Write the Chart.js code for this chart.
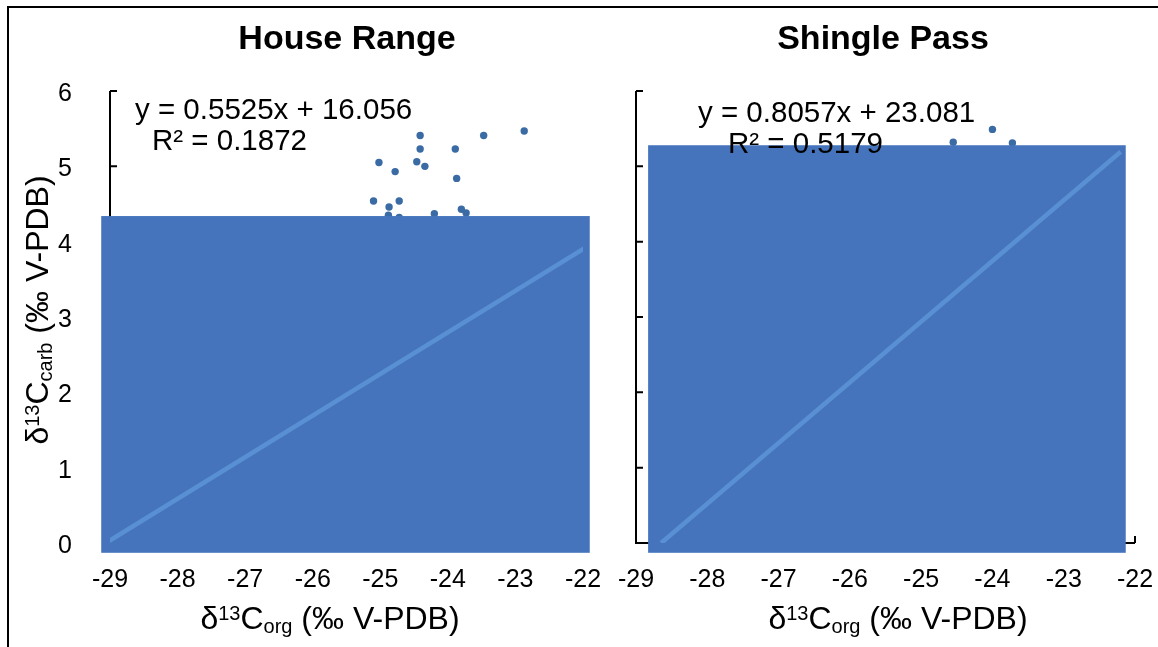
<!DOCTYPE html>
<html>
<head>
<meta charset="utf-8">
<title>δ13C carb vs org</title>
<script src="https://cdn.jsdelivr.net/npm/chart.js@4.4.1/dist/chart.umd.min.js"></script>
<style>
  html, body { margin: 0; padding: 0; background: #fff; }
  body { width: 1158px; height: 647px; position: relative; overflow: hidden; }
  .frame { position: absolute; left: 7px; top: 6px; width: 1200px; height: 700px; border-left: 2px solid #000; border-top: 2px solid #000; }
  canvas { position: absolute; top: 0; }
  #hr { left: 0; }
  #sp { left: 600px; }
</style>
</head>
<body>
<div class="frame"></div>
<canvas id="hr" width="620" height="647"></canvas>
<canvas id="sp" width="600" height="647"></canvas>
<script>
// ── δ13C carb vs org · two sections ──

const X_TICKS = [-29, -28, -27, -26, -25, -24, -23, -22];
const Y_TICKS = [0, 1, 2, 3, 4, 5, 6];

// House Range
const HR_X = [-24.41, -23.47, -22.87, -24.41, -23.89, -25.02, -24.46, -24.34, -24.78, -23.87, -25.10, -24.72, -24.87, -23.80, -23.73, -24.88, -24.72, -24.20];
const HR_Y = [5.41, 5.41, 5.47, 5.23, 5.23, 5.05, 5.06, 5.00, 4.93, 4.84, 4.54, 4.54, 4.46, 4.43, 4.38, 4.35, 4.32, 4.37];
const HR_FIT = ['0.5525', '16.056'];     // slope, intercept as printed
const HR_R2 = '0.1872';
const HR_FIT_END = -21.9;
const HR_BLOCK_X = [-29.13, -21.90];
const HR_BLOCK_Y = [-0.13, 4.34];

// Shingle Pass
const SP_X = [-24.55, -24.00, -23.72];
const SP_Y = [5.32, 5.49, 5.31];
const SP_FIT = ['0.8057', '23.081'];
const SP_R2 = '0.5179';
const SP_FIT_END = -22.2;
const SP_BLOCK_X = [-28.83, -22.13];
const SP_BLOCK_Y = [-0.13, 5.28];

const FONT = "'Liberation Sans', Arial, Helvetica, sans-serif";
const C_DOT = '#3b6ba5', C_BLOCK = '#4574bd', C_FIT = '#5890d3';

const pts = (xs, ys) => xs.map((x, i) => ({ x, y: ys[i] }));
const fitLine = (fit, xEnd) => {
  const m = parseFloat(fit[0]), b = parseFloat(fit[1]);
  return [{ x: -b / m, y: 0 }, { x: xEnd, y: m * xEnd + b }];
};

// text with sup/sub runs: parts = [[text, 'sup'|'sub'|null], ...]
function richText(ctx, parts, x, y, size, align) {
  const small = Math.round(size * 0.62);
  const widths = parts.map(([t, k]) => { ctx.font = `${k ? small : size}px ${FONT}`; return ctx.measureText(t).width; });
  const total = widths.reduce((a, b) => a + b, 0);
  let cx = align === 'center' ? x - total / 2 : x;
  ctx.textAlign = 'left'; ctx.textBaseline = 'alphabetic';
  parts.forEach(([t, k], i) => {
    ctx.font = `${k ? small : size}px ${FONT}`;
    const dy = k === 'sup' ? -size * 0.28 : k === 'sub' ? size * 0.12 : 0;
    ctx.fillText(t, cx, y + dy);
    cx += widths[i];
  });
}

const AXIS_TITLE_X = [['δ', null], ['13', 'sup'], ['C', null], ['org', 'sub'], [' (‰ V-PDB)', null]];
const AXIS_TITLE_Y = [['δ', null], ['13', 'sup'], ['C', null], ['carb', 'sub'], [' (‰ V-PDB)', null]];

const panelDeco = {
  id: 'panelDeco',
  beforeDatasetsDraw(chart) {
    // axis lines with inward tick marks
    const { ctx, chartArea: a, scales: { x, y } } = chart;
    ctx.save();
    ctx.strokeStyle = '#000'; ctx.lineWidth = 2;
    ctx.beginPath();
    ctx.moveTo(a.left, a.top); ctx.lineTo(a.left, a.bottom); ctx.lineTo(a.right, a.bottom);
    y.ticks.forEach(t => { const p = y.getPixelForValue(t.value); ctx.moveTo(a.left, p); ctx.lineTo(a.left + 7, p); });
    x.ticks.forEach(t => { const p = x.getPixelForValue(t.value); ctx.moveTo(p, a.bottom); ctx.lineTo(p, a.bottom - 7); });
    ctx.stroke();
    ctx.restore();
  },
  afterDatasetDraw(chart, args, o) {
    // shaded block sits over the dots, under the fit line
    if (args.index !== 1) return;
    const { ctx, scales: { x, y } } = chart;
    const x0 = x.getPixelForValue(o.blockX[0]), x1 = x.getPixelForValue(o.blockX[1]);
    const y0 = y.getPixelForValue(o.blockY[0]), y1 = y.getPixelForValue(o.blockY[1]);
    ctx.save(); ctx.fillStyle = C_BLOCK; ctx.fillRect(x0, y1, x1 - x0, y0 - y1); ctx.restore();
  },
  afterDatasetsDraw(chart, args, o) {
    const { ctx } = chart;
    ctx.save(); ctx.fillStyle = '#000';
    ctx.font = `29.5px ${FONT}`; ctx.textAlign = 'left'; ctx.textBaseline = 'middle';
    ctx.fillText(`y = ${o.fit[0]}x + ${o.fit[1]}`, o.eq[0], o.eq[1]);
    ctx.fillText(`R² = ${o.r2}`, o.r2At[0], o.r2At[1]);
    ctx.restore();
  },
  afterDraw(chart, args, o) {
    const { ctx } = chart;
    ctx.save(); ctx.fillStyle = '#000';
    ctx.font = `bold 34px ${FONT}`; ctx.textAlign = 'center'; ctx.textBaseline = 'middle';
    ctx.fillText(o.title, o.titleAt[0], o.titleAt[1]);
    richText(ctx, AXIS_TITLE_X, o.xTitleAt[0], o.xTitleAt[1], 32, 'center');
    if (o.yTitleAt) {
      ctx.translate(o.yTitleAt[0], o.yTitleAt[1]); ctx.rotate(-Math.PI / 2);
      richText(ctx, AXIS_TITLE_Y, 0, 0, 32, 'center');
    }
    ctx.restore();
  }
};

function panel(id, cfg) {
  return new Chart(document.getElementById(id), {
    data: {
      datasets: [
        { type: 'line', data: cfg.fitPts, borderColor: C_FIT, borderWidth: 4.5, pointRadius: 0, fill: false },
        { type: 'scatter', data: cfg.dots, backgroundColor: C_DOT, borderWidth: 0, pointRadius: 3.7 }
      ]
    },
    options: {
      responsive: false, animation: false, events: [],
      layout: { padding: cfg.pad },
      plugins: { legend: { display: false }, tooltip: { enabled: false }, panelDeco: cfg.deco },
      scales: {
        x: {
          type: 'linear', min: X_TICKS[0], max: X_TICKS[X_TICKS.length - 1],
          afterBuildTicks: s => { s.ticks = X_TICKS.map(v => ({ value: v })); },
          afterFit: s => { s.height = 104; },
          grid: { display: false }, border: { display: false },
          ticks: { color: '#000', font: { family: FONT, size: 25 }, padding: 14, maxRotation: 0, autoSkip: false }
        },
        y: {
          type: 'linear', min: Y_TICKS[0], max: Y_TICKS[Y_TICKS.length - 1],
          afterBuildTicks: s => { s.ticks = Y_TICKS.map(v => ({ value: v })); },
          afterFit: s => { s.width = cfg.yWidth; },
          grid: { display: false }, border: { display: false },
          ticks: { display: cfg.yLabels, color: '#000', font: { family: FONT, size: 25 }, padding: 30, labelOffset: 3 }
        }
      }
    },
    plugins: [panelDeco]
  });
}

panel('hr', {
  dots: pts(HR_X, HR_Y), fitPts: fitLine(HR_FIT, HR_FIT_END),
  pad: { left: 0, right: 37, top: 91, bottom: 0 }, yWidth: 110, yLabels: true,
  deco: { blockX: HR_BLOCK_X, blockY: HR_BLOCK_Y, fit: HR_FIT, r2: HR_R2,
          eq: [135, 111], r2At: [152, 142], title: 'House Range', titleAt: [347, 40],
          xTitleAt: [330, 629], yTitleAt: [48, 310] }
});

panel('sp', {
  dots: pts(SP_X, SP_Y), fitPts: fitLine(SP_FIT, SP_FIT_END),
  pad: { left: 0, right: 65, top: 91, bottom: 0 }, yWidth: 36, yLabels: false,
  deco: { blockX: SP_BLOCK_X, blockY: SP_BLOCK_Y, fit: SP_FIT, r2: SP_R2,
          eq: [98, 114], r2At: [128, 145], title: 'Shingle Pass', titleAt: [283, 40],
          xTitleAt: [298, 629], yTitleAt: null }
});
</script>
</body>
</html>
